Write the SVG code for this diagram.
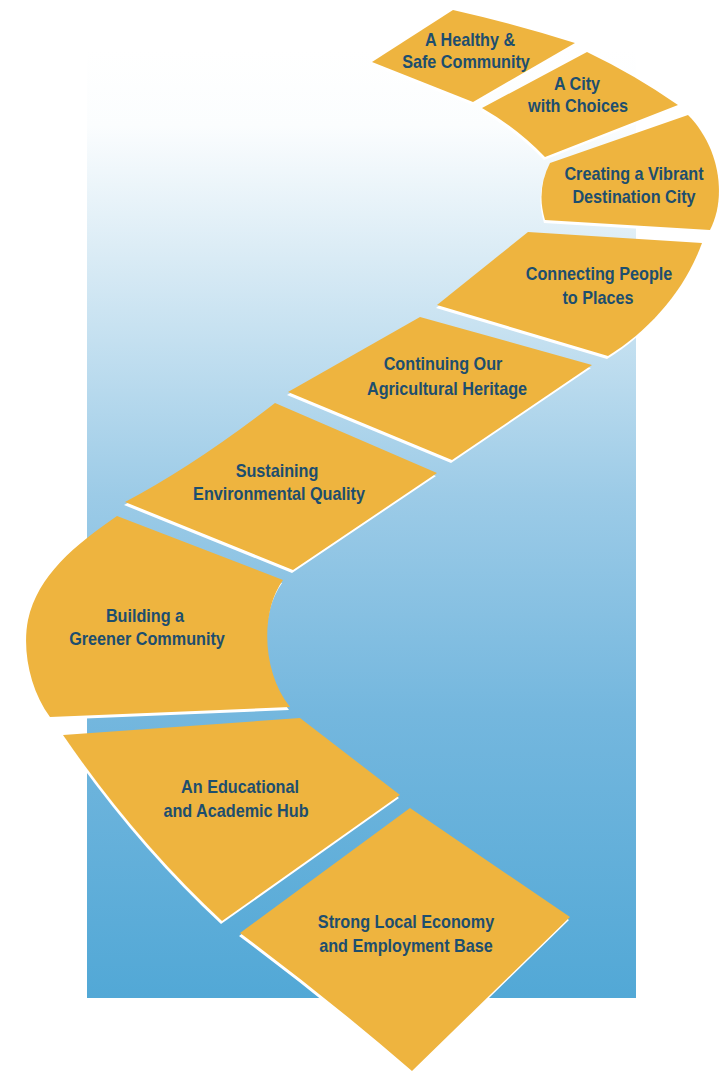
<svg xmlns="http://www.w3.org/2000/svg" xmlns:xlink="http://www.w3.org/1999/xlink" width="725" height="1073" viewBox="0 0 725 1073">
<style>
.tile{fill:#EEB43F}
.sh{fill:#ffffff}
.t{font-family:"Liberation Sans",Arial,sans-serif;font-weight:bold;font-size:18px;fill:#1D4E6E;text-anchor:middle}
</style>
<defs>
<linearGradient id="bg" x1="0" y1="0" x2="0" y2="1">
<stop offset="0" stop-color="#ffffff"/>
<stop offset="0.08" stop-color="#fbfdfe"/>
<stop offset="0.22" stop-color="#d9ebf5"/>
<stop offset="0.47" stop-color="#9ccbe7"/>
<stop offset="0.7" stop-color="#74b7de"/>
<stop offset="1" stop-color="#52a8d6"/>
</linearGradient>
<path id="p1" d="M453,10 Q515,24 575,43 L473,102 L372,62 Z"/>
<path id="p2" d="M587,52 Q635,75 678,105 L545,157 Q517,128 482,108 Z"/>
<path id="p3" d="M688,115 L550,163 Q536,190 545,220 L710,230 C728,195 718,145 688,115 Z"/>
<path id="p4" d="M528,232 L702,243 C685,290 650,330 608,356 L437,305 Z"/>
<path id="p5" d="M420,317 L592,365 L452,460 L288,392 Z"/>
<path id="p6" d="M275,403 L437,473 L293,570 L125,502 Q195,465 275,403 Z"/>
<path id="p7" d="M117,516 L283,580 C260,612 262,672 290,707 L50,717 C30,690 22,650 28,620 C38,575 75,545 117,516 Z"/>
<path id="p8" d="M63,735 L300,718 L400,795 L222,921 Q135,840 63,735 Z"/>
<path id="p9" d="M410,808 L570,917 L412,1071 Q330,1000 240,933 Z"/>
</defs>
<rect x="87" y="50" width="549" height="948" fill="url(#bg)"/>
<g id="connectors"></g>
<g id="n1">
<use xlink:href="#p1" class="sh" transform="translate(-1,3)"/>
<use xlink:href="#p1" class="tile"/>
<text class="t" transform="translate(470,46) scale(0.9,1)">A Healthy &amp;</text>
<text class="t" transform="translate(466,68) scale(0.9,1)">Safe Community</text>
</g>
<g id="n2">
<use xlink:href="#p2" class="sh" transform="translate(-1,3)"/>
<use xlink:href="#p2" class="tile"/>
<text class="t" transform="translate(577,90) scale(0.9,1)">A City</text>
<text class="t" transform="translate(578,112) scale(0.9,1)">with Choices</text>
</g>
<g id="n3">
<use xlink:href="#p3" class="sh" transform="translate(-1,3)"/>
<use xlink:href="#p3" class="tile"/>
<text class="t" transform="translate(634,180) scale(0.9,1)">Creating a Vibrant</text>
<text class="t" transform="translate(634,203) scale(0.9,1)">Destination City</text>
</g>
<g id="n4">
<use xlink:href="#p4" class="sh" transform="translate(-1,3)"/>
<use xlink:href="#p4" class="tile"/>
<text class="t" transform="translate(599,280) scale(0.9,1)">Connecting People</text>
<text class="t" transform="translate(598,304) scale(0.9,1)">to Places</text>
</g>
<g id="n5">
<use xlink:href="#p5" class="sh" transform="translate(-1,3)"/>
<use xlink:href="#p5" class="tile"/>
<text class="t" transform="translate(443,370) scale(0.9,1)">Continuing Our</text>
<text class="t" transform="translate(447,395) scale(0.9,1)">Agricultural Heritage</text>
</g>
<g id="n6">
<use xlink:href="#p6" class="sh" transform="translate(-1,3)"/>
<use xlink:href="#p6" class="tile"/>
<text class="t" transform="translate(277,477) scale(0.9,1)">Sustaining</text>
<text class="t" transform="translate(279,500) scale(0.9,1)">Environmental Quality</text>
</g>
<g id="n7">
<use xlink:href="#p7" class="sh" transform="translate(-1,3)"/>
<use xlink:href="#p7" class="tile"/>
<text class="t" transform="translate(145,622) scale(0.9,1)">Building a</text>
<text class="t" transform="translate(147,645) scale(0.9,1)">Greener Community</text>
</g>
<g id="n8">
<use xlink:href="#p8" class="sh" transform="translate(-1,3)"/>
<use xlink:href="#p8" class="tile"/>
<text class="t" transform="translate(240,793) scale(0.9,1)">An Educational</text>
<text class="t" transform="translate(236,817) scale(0.9,1)">and Academic Hub</text>
</g>
<g id="n9">
<use xlink:href="#p9" class="sh" transform="translate(-1,3)"/>
<use xlink:href="#p9" class="tile"/>
<text class="t" transform="translate(406,928) scale(0.9,1)">Strong Local Economy</text>
<text class="t" transform="translate(406,952) scale(0.9,1)">and Employment Base</text>
</g>
</svg>
